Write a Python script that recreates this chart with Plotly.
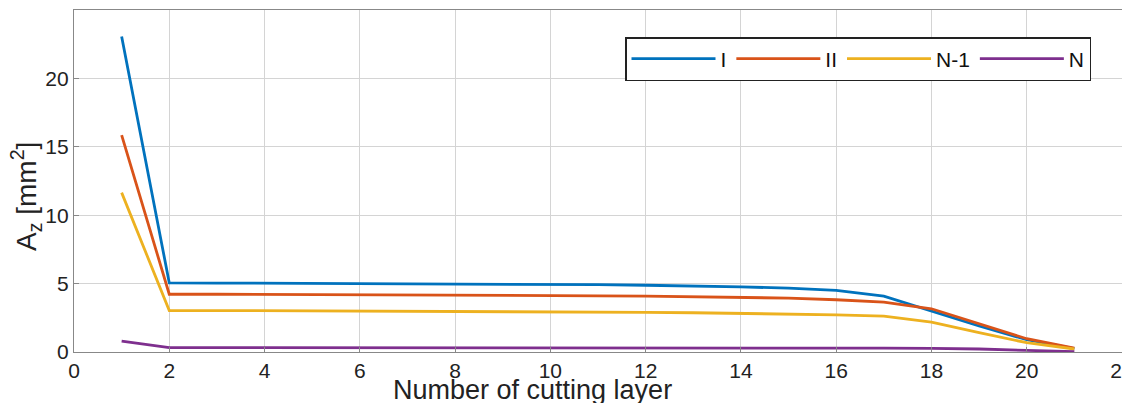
import plotly.graph_objects as go

layers = list(range(1, 22))
series_I = [23.07, 5.05, 5.04, 5.03, 5.03, 5.02, 5.0, 4.99, 4.97, 4.95, 4.92, 4.88, 4.83, 4.76, 4.67, 4.5, 4.08, 2.99, 1.9, 0.9, 0.25]
series_II = [15.86, 4.22, 4.22, 4.21, 4.21, 4.2, 4.19, 4.17, 4.15, 4.13, 4.11, 4.08, 4.05, 4.0, 3.94, 3.82, 3.64, 3.16, 2.07, 0.97, 0.28]
series_N1 = [11.65, 3.03, 3.03, 3.02, 3.02, 3.01, 3.0, 2.99, 2.97, 2.95, 2.93, 2.9, 2.87, 2.83, 2.78, 2.72, 2.62, 2.19, 1.41, 0.68, 0.22]
series_N = [0.8, 0.32, 0.32, 0.32, 0.32, 0.31, 0.31, 0.31, 0.31, 0.3, 0.3, 0.3, 0.3, 0.29, 0.29, 0.28, 0.28, 0.26, 0.22, 0.12, 0.03]

names = ["I", "II", "N-1", "N"]
colors = ["#0072BD", "#D95319", "#EDB120", "#7E2F8E"]
values = [series_I, series_II, series_N1, series_N]

x_ticks = list(range(0, 23, 2))
y_ticks = [0, 5, 10, 15, 20]

fig = go.Figure()
for n, c, v in zip(names, colors, values):
    fig.add_trace(go.Scatter(x=layers, y=v, mode="lines", name=n,
                             line=dict(color=c, width=2.8)))

font = "Liberation Sans, Arial, sans-serif"
W, H = 1122, 403
L, R, T, B = 74, 0, 10, 51
pw, ph = W - L - R, H - T - B

fig.update_layout(
    width=W, height=H, autosize=False,
    margin=dict(l=L, r=R, t=T, b=B, autoexpand=False),
    plot_bgcolor="white", paper_bgcolor="white",
    font=dict(family=font, size=21, color="#222"),
    showlegend=True,
    legend=dict(orientation="h", x=(1091 - L) / pw, y=(H - B - 37) / ph,
                xanchor="right", yanchor="top",
                bordercolor="#222", borderwidth=1.5, bgcolor="white",
                font=dict(size=21, color="#111"), itemwidth=84,
                tracegroupgap=0),
    xaxis=dict(range=[0, 22], tickvals=x_ticks, showgrid=True, gridcolor="#d4d4d4",
               gridwidth=1, zeroline=False, showline=True, linecolor="#888",
               linewidth=1.2, mirror=True, ticks="inside", ticklen=5, tickcolor="#888",
               tickfont=dict(size=21, color="#222"), automargin=False,
               ticklabeloverflow="allow"),
    yaxis=dict(range=[0, 25], tickvals=y_ticks, showgrid=True, gridcolor="#d4d4d4",
               gridwidth=1, zeroline=False, showline=True, linecolor="#888",
               linewidth=1.2, mirror=True, ticks="inside", ticklen=5, tickcolor="#888",
               tickfont=dict(size=21, color="#222"), automargin=False),
    annotations=[
        dict(text="Number of cutting layer", xref="paper", yref="paper",
             x=(532 - L) / pw, y=-(390 - (H - B)) / ph, xanchor="center", yanchor="middle",
             showarrow=False, font=dict(size=27, color="#222")),
        dict(text="A<sub>z</sub> [mm<sup>2</sup>]", xref="paper", yref="paper",
             x=-(L - 26) / pw, y=(H - B - 197) / ph, xanchor="center", yanchor="middle",
             textangle=-90, showarrow=False, font=dict(size=28, color="#222")),
    ],
)

fig.write_html("out.html",
               config={"displayModeBar": False, "responsive": False},
               post_script="document.body.style.margin='0';document.body.style.padding='0';document.body.style.overflow='hidden';")
